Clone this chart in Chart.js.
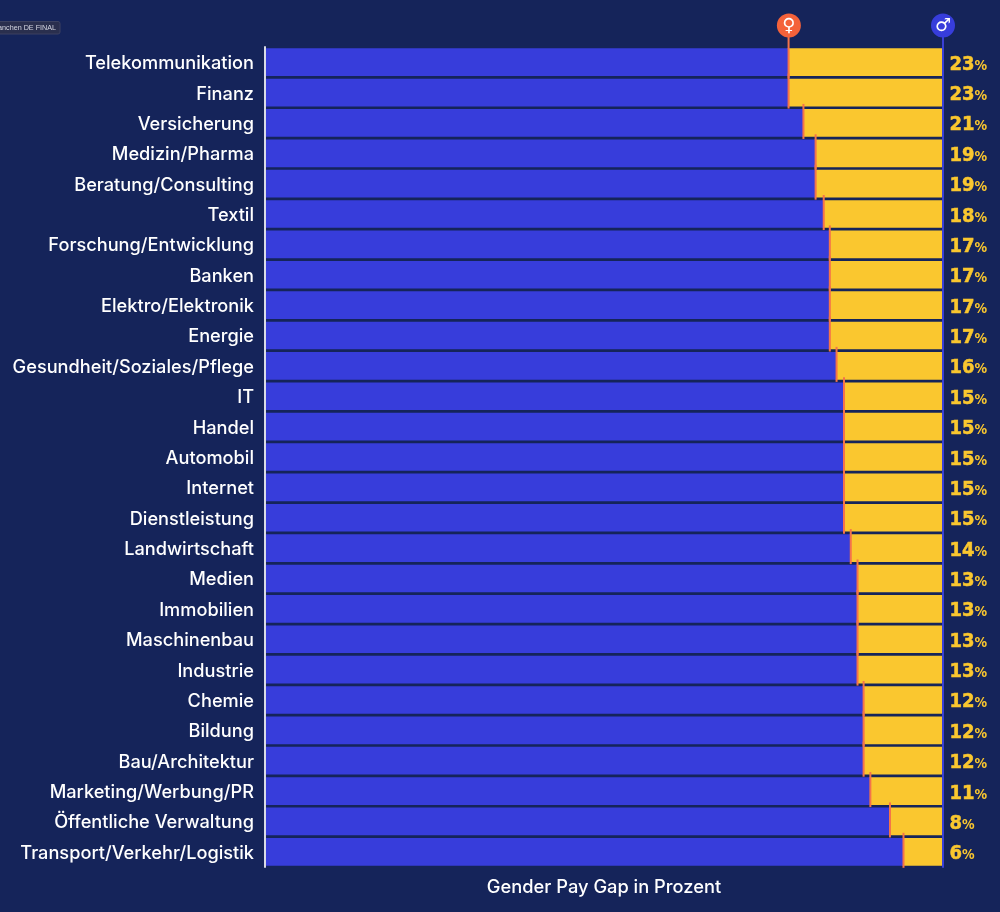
<!DOCTYPE html>
<html lang="de">
<head>
<meta charset="utf-8">
<title>Gender Pay Gap nach Branchen</title>
<script src="https://cdn.jsdelivr.net/npm/chart.js@4"></script>
<style>
  html, body { margin: 0; padding: 0; background: #15245A; }
  #wrap { position: relative; width: 1000px; height: 912px; }
</style>
</head>
<body>
<div id="wrap"><canvas id="payGapChart"></canvas></div>
<script>
// Data
const categories = [
    'Telekommunikation', 'Finanz', 'Versicherung', 'Medizin/Pharma', 'Beratung/Consulting', 'Textil',
    'Forschung/Entwicklung', 'Banken', 'Elektro/Elektronik', 'Energie', 'Gesundheit/Soziales/Pflege',
    'IT', 'Handel', 'Automobil', 'Internet', 'Dienstleistung', 'Landwirtschaft', 'Medien', 'Immobilien',
    'Maschinenbau', 'Industrie', 'Chemie', 'Bildung', 'Bau/Architektur', 'Marketing/Werbung/PR',
    'Öffentliche Verwaltung', 'Transport/Verkehr/Logistik'
];
const womenBar = [77.2, 77.2, 79.4, 81.2, 81.2, 82.4, 83.3, 83.3, 83.3, 83.3, 84.3, 85.4, 85.4, 85.4,
    85.4, 85.4, 86.4, 87.4, 87.4, 87.4, 87.4, 88.3, 88.3, 88.3, 89.3, 92.2, 94.2];
const gapBar = [22.8, 22.8, 20.6, 18.8, 18.8, 17.6, 16.7, 16.7, 16.7, 16.7, 15.7, 14.6, 14.6, 14.6,
    14.6, 14.6, 13.6, 12.6, 12.6, 12.6, 12.6, 11.7, 11.7, 11.7, 10.7, 7.8, 5.8];
const gapLabels = [23, 23, 21, 19, 19, 18, 17, 17, 17, 17, 16, 15, 15, 15, 15, 15, 14, 13, 13, 13, 13,
    12, 12, 12, 11, 8, 6];

const BLUE = '#373DDB';
const YELLOW = '#FAC72F';
const ORANGE = '#F4734A';

/**
 * Draws everything Chart.js has no option for: axis lines, gap markers, pins, value labels
 */
const overlayPlugin = {
    id: 'overlay',
    afterDatasetsDraw(chart) {
        const { ctx, scales: { x, y } } = chart;
        const x0 = x.getPixelForValue(0);
        const x100 = x.getPixelForValue(100);
        const halfBar = 14;
        ctx.save();

        // White baseline on the left
        ctx.strokeStyle = '#D9DBE6';
        ctx.lineWidth = 2;
        ctx.beginPath();
        ctx.moveTo(x0 - 1, y.getPixelForValue(0) - halfBar - 2);
        ctx.lineTo(x0 - 1, y.getPixelForValue(categories.length - 1) + halfBar + 2);
        ctx.stroke();

        // Men's line, from the pin to the bottom
        ctx.strokeStyle = '#3A40D6';
        ctx.beginPath();
        ctx.moveTo(x100 + 1, 30);
        ctx.lineTo(x100 + 1, y.getPixelForValue(categories.length - 1) + halfBar + 2);
        ctx.stroke();

        // Women's marker per row
        ctx.strokeStyle = ORANGE;
        womenBar.forEach((value, i) => {
            const px = x.getPixelForValue(value) + 0.7;
            const cy = y.getPixelForValue(i);
            ctx.beginPath();
            ctx.moveTo(px, i === 0 ? 30 : cy - halfBar - 5);
            ctx.lineTo(px, cy + halfBar + 2);
            ctx.stroke();
        });

        // Pins
        drawPin(ctx, x.getPixelForValue(womenBar[0]) + 1, '#F4623A', '\u2640');
        drawPin(ctx, x100 + 1, '#373DDB', '\u2642');

        // Value labels with the smaller percent sign, stroked a little to get the heavy look
        ctx.textBaseline = 'alphabetic';
        ctx.textAlign = 'left';
        ctx.fillStyle = YELLOW;
        ctx.strokeStyle = YELLOW;
        ctx.lineWidth = 0.5;
        gapLabels.forEach((value, i) => {
            const cy = y.getPixelForValue(i) + 7.5;
            const txt = String(value);
            ctx.font = 'bold condensed 20px "DejaVu Sans"';
            ctx.fillText(txt, x100 + 7.5, cy);
            ctx.strokeText(txt, x100 + 7.5, cy);
            const w = ctx.measureText(txt).width;
            ctx.font = 'bold condensed 14px "DejaVu Sans"';
            ctx.fillText('%', x100 + 7.5 + w, cy);
        });

        // Leftover layer tooltip in the top corner, cut off by the page edge
        ctx.fillStyle = '#2A2F4E';
        ctx.strokeStyle = '#3C4160';
        ctx.lineWidth = 1;
        ctx.beginPath();
        ctx.roundRect(-6, 21.5, 66, 12.5, 2);
        ctx.fill();
        ctx.stroke();
        ctx.fillStyle = '#D5D7E2';
        ctx.font = '7.2px "Liberation Sans"';
        ctx.textAlign = 'right';
        ctx.textBaseline = 'middle';
        ctx.fillText('Branchen DE FINAL', 56, 28);
        ctx.restore();
    }
};

function drawPin(ctx, cx, color, glyph) {
    ctx.fillStyle = color;
    ctx.beginPath();
    ctx.arc(cx, 25.5, 12, 0, Math.PI * 2);
    ctx.fill();
    ctx.fillStyle = '#FFFFFF';
    ctx.font = '18px "DejaVu Sans"';
    ctx.textAlign = 'center';
    ctx.textBaseline = 'middle';
    ctx.fillText(glyph, cx, 26);
}

new Chart(document.getElementById('payGapChart').getContext('2d'), {
    type: 'bar',
    data: {
        labels: categories,
        datasets: [
            { label: 'Frauen', data: womenBar, backgroundColor: BLUE, barThickness: 27, borderWidth: 0 },
            { label: 'Gender Pay Gap', data: gapBar, backgroundColor: YELLOW, barThickness: 27, borderWidth: 0 }
        ]
    },
    options: {
        indexAxis: 'y',
        responsive: true,
        maintainAspectRatio: false,
        animation: false,
        layout: { padding: { top: 47, right: 58, bottom: 0, left: 0 } },
        plugins: {
            legend: { display: false },
            tooltip: { enabled: false }
        },
        scales: {
            x: {
                stacked: true,
                min: 0,
                max: 100,
                grid: { display: false },
                border: { display: false },
                ticks: { display: false },
                afterFit: scale => { scale.height = 45; },
                title: {
                    display: true,
                    text: 'Gender Pay Gap in Prozent',
                    color: '#FFFFFF',
                    font: { family: 'Inter', size: 18.3, weight: '500' },
                    padding: { top: 8, bottom: 14 }
                }
            },
            y: {
                stacked: true,
                grid: { display: false },
                border: { display: false },
                afterFit: scale => { scale.width = 266; },
                ticks: {
                    color: '#FFFFFF',
                    autoSkip: false,
                    padding: 4,
                    labelOffset: 1.5,
                    font: { family: 'Inter', size: 18.2, weight: '500' }
                }
            }
        }
    },
    plugins: [overlayPlugin]
});
</script>
</body>
</html>
